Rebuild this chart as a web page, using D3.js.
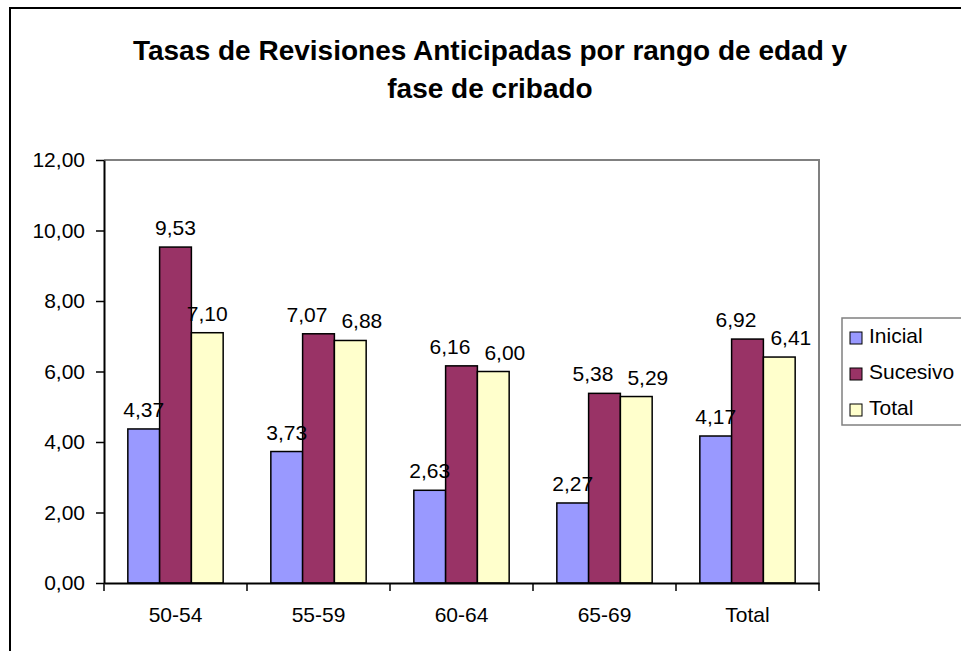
<!DOCTYPE html>
<html>
<head>
<meta charset="utf-8">
<script src="https://cdn.jsdelivr.net/npm/d3@7"></script>
<style>
  body { margin: 0; background: #fff; }
  svg text { font-family: "Liberation Sans", Arial, sans-serif; fill: #000; }
</style>
</head>
<body>
<div id="chart"></div>
<script>
// datos
const categories = ["50-54", "55-59", "60-64", "65-69", "Total"];
const seriesNames = ["Inicial", "Sucesivo", "Total"];
const inicial = [4.37, 3.73, 2.63, 2.27, 4.17];
const sucesivo = [9.53, 7.07, 6.16, 5.38, 6.92];
const total = [7.10, 6.88, 6.00, 5.29, 6.41];
const yTicks = [0, 2, 4, 6, 8, 10, 12];
const titleLines = ["Tasas de Revisiones Anticipadas por rango de edad y", "fase de cribado"];

const colors = ["#9999FF", "#993366", "#FFFFCC"];
const values = [inicial, sucesivo, total];

const W = 961, H = 651;
const plot = {left: 104, top: 160, right: 819, bottom: 583};
const fontSize = 21;

const fmt = v => d3.format(".2f")(v).replace(".", ",");

const svg = d3.select("#chart")
    .append("svg")
    .attr("width", W)
    .attr("height", H);

// marco exterior
svg.append("rect")
    .attr("x", 10).attr("y", 8)
    .attr("width", 962).attr("height", 660)
    .attr("fill", "none")
    .attr("stroke", "#000")
    .attr("stroke-width", 2);

// titulo
svg.append("g")
    .selectAll("text")
    .data(titleLines)
    .enter()
    .append("text")
    .attr("x", 490)
    .attr("y", (d, i) => 59.5 + i * 38.5)
    .attr("text-anchor", "middle")
    .style("font-size", "28px")
    .style("font-weight", "bold")
    .text(d => d);

var x0 = d3.scaleBand()
    .domain(categories)
    .range([plot.left, plot.right]);

// gap width 150% como en Excel
var gap = x0.bandwidth() * 1.5 / (seriesNames.length + 1.5);
var x1 = d3.scaleBand()
    .domain(seriesNames)
    .range([gap / 2, x0.bandwidth() - gap / 2]);

var y = d3.scaleLinear()
    .domain([0, 12])
    .range([plot.bottom, plot.top]);

// borde del area de trazado (arriba y derecha, gris)
svg.append("path")
    .attr("d", `M${plot.left},${y(12)}H${plot.right}V${plot.bottom}`)
    .attr("fill", "none")
    .attr("stroke", "#808080")
    .attr("stroke-width", 2);

// barras
var groups = svg.selectAll("g.cat")
    .data(categories)
    .enter()
    .append("g")
    .attr("class", "cat")
    .attr("transform", d => `translate(${x0(d)},0)`);

groups.selectAll("rect")
    .data((c, ci) => seriesNames.map((s, si) => ({s: s, si: si, v: values[si][ci]})))
    .enter()
    .append("rect")
    .attr("x", d => x1(d.s))
    .attr("y", d => y(d.v))
    .attr("width", x1.bandwidth())
    .attr("height", d => y(0) - y(d.v))
    .attr("fill", d => colors[d.si])
    .attr("stroke", "#000")
    .attr("stroke-width", 1.5);

// etiquetas de datos
var labels = groups.selectAll("text.lbl")
    .data((c, ci) => seriesNames.map((s, si) => ({s: s, si: si, v: values[si][ci]})))
    .enter()
    .append("text")
    .attr("class", "lbl")
    .attr("text-anchor", "middle")
    .style("font-size", fontSize + "px")
    .attr("x", d => x1(d.s) + x1.bandwidth() / 2)
    .attr("y", d => y(d.v) - 12)
    .text(d => fmt(d.v));

// separar etiquetas que se solapan
groups.each(function() {
    var items = [];
    d3.select(this).selectAll("text.lbl").each(function(d) {
        items.push({el: this, cx: +this.getAttribute("x"), y: +this.getAttribute("y"), w: this.getComputedTextLength()});
    });
    const minGap = 14;
    for (let it = 0; it < 4; it++) {
        for (let i = 0; i < items.length - 1; i++) {
            let a = items[i], b = items[i + 1];
            if (Math.abs(a.y - b.y) > fontSize) continue;
            let over = (a.cx + a.w / 2 + minGap) - (b.cx - b.w / 2);
            if (over > 0) { a.cx -= over / 2; b.cx += over / 2; }
        }
    }
    items.forEach(e => d3.select(e.el).attr("x", e.cx));
});

// eje Y
var yAxis = svg.append("g")
    .attr("transform", `translate(${plot.left},0)`)
    .call(d3.axisLeft(y)
        .tickValues(yTicks)
        .tickFormat(fmt)
        .tickSize(8)
        .tickSizeOuter(0)
        .tickPadding(11));
yAxis.select(".domain").attr("stroke", "#000").attr("stroke-width", 2);
yAxis.selectAll(".tick line").attr("stroke", "#000").attr("stroke-width", 1.5);
yAxis.selectAll("text").style("font-size", fontSize + "px").attr("fill", "#000");

// eje X
var xAxis = svg.append("g")
    .attr("transform", `translate(0,${plot.bottom})`)
    .call(d3.axisBottom(x0).tickSize(0).tickSizeOuter(0).tickPadding(24));
xAxis.select(".domain").attr("stroke", "#000").attr("stroke-width", 2);
xAxis.selectAll("text").style("font-size", fontSize + "px").attr("fill", "#000");

// marcas entre categorias
var bounds = categories.map(c => x0(c)).concat([x0(categories[categories.length - 1]) + x0.bandwidth()]);
xAxis.selectAll("line.sep")
    .data(bounds)
    .enter()
    .append("line")
    .attr("class", "sep")
    .attr("x1", d => d).attr("x2", d => d)
    .attr("y1", 0).attr("y2", 8)
    .attr("stroke", "#000")
    .attr("stroke-width", 1.5);

// leyenda
var legend = svg.append("g")
    .attr("transform", "translate(842,318)");
legend.append("rect")
    .attr("width", 126).attr("height", 107)
    .attr("fill", "#fff")
    .attr("stroke", "#808080")
    .attr("stroke-width", 1.5);
var li = legend.selectAll("g.item")
    .data(seriesNames)
    .enter()
    .append("g")
    .attr("class", "item")
    .attr("transform", (d, i) => `translate(8,${14 + i * 36})`);
li.append("rect")
    .attr("width", 12).attr("height", 12)
    .attr("fill", (d, i) => colors[i])
    .attr("stroke", "#000")
    .attr("stroke-width", 1);
li.append("text")
    .attr("x", 19)
    .attr("y", 11)
    .style("font-size", fontSize + "px")
    .text(d => d);
</script>
</body>
</html>
